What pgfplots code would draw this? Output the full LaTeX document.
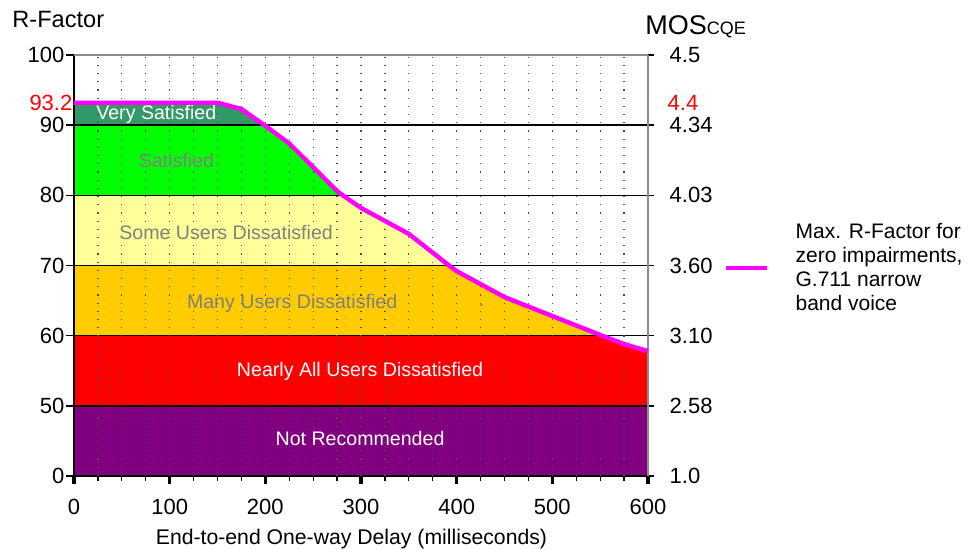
\documentclass[border=0pt]{standalone}
\usepackage{fontspec}
\setmainfont{Liberation Sans}
\usepackage{pgfplots}
\pgfplotsset{compat=1.18}
\usepackage{pgfplotstable}

\definecolor{vsat}{HTML}{339966}
\definecolor{sat}{HTML}{00FF00}
\definecolor{some}{HTML}{FFFF99}
\definecolor{many}{HTML}{FFCC00}
\definecolor{nearly}{HTML}{FF0000}
\definecolor{notrec}{HTML}{800080}
\definecolor{curvecol}{HTML}{FF00FF}
\definecolor{lbl}{HTML}{808080}

% Max R-factor vs one-way delay (R values; plotted on a compressed scale y' = R - 40)
\pgfplotstableread{
x R
0 93.2
150 93.2
175 92.3
199 90.0
200 89.9
225 87.4
250 84.0
275 80.6
281 80.0
300 78.2
350 74.5
392 70.0
400 69.2
450 65.5
500 62.8
550 60.1
552 60.0
575 58.8
600 57.8
}\curvedata

\begin{document}
\begin{tikzpicture}
\begin{axis}[
  at={(0,0)}, anchor=south west,
  scale only axis, width=287pt, height=210.5pt,
  xmin=0, xmax=600, ymin=0, ymax=60,
  axis on top,
  axis x line*=bottom, axis y line*=left,
  axis line style={black, line width=0.8pt, -},
  xtick={0,100,...,600}, minor xtick={25,50,...,575},
  ytick={0,10,...,60}, yticklabels={0,50,60,70,80,90,100},
  extra y ticks={53.2}, extra y tick labels={93.2},
  extra y tick style={grid=none, major tick length=0pt, yticklabel style={red}},
  ymajorgrids, major grid style={black, line width=0.75pt},
  tick align=outside, major tick length=4pt, minor tick length=2.5pt,
  major x tick style={line width=1.6pt, black},
  minor x tick style={line width=0.6pt, black},
  major y tick style={line width=0.75pt, black},
  ticklabel style={font=\fontsize{11}{13}\selectfont},
  /pgf/number format/assume math mode=true,
  xticklabel style={yshift=-4pt},
  yticklabel style={xshift=2.7pt},
  clip=false,
]
\addplot[draw=none, fill=vsat] table[x=x, y expr=\thisrow{R}-40] {\curvedata} \closedcycle;
\addplot[draw=none, fill=sat] table[x=x, y expr={min(\thisrow{R},90)-40}] {\curvedata} \closedcycle;
\addplot[draw=none, fill=some] table[x=x, y expr={min(\thisrow{R},80)-40}] {\curvedata} \closedcycle;
\addplot[draw=none, fill=many] table[x=x, y expr={min(\thisrow{R},70)-40}] {\curvedata} \closedcycle;
\addplot[draw=none, fill=nearly] table[x=x, y expr={min(\thisrow{R},60)-40}] {\curvedata} \closedcycle;
\addplot[draw=none, fill=notrec] table[x=x, y expr={min(\thisrow{R},50)-40}] {\curvedata} \closedcycle;
\end{axis}

\begin{axis}[
  at={(0,0)}, anchor=south west,
  scale only axis, width=287pt, height=210.5pt,
  xmin=0, xmax=600, ymin=0, ymax=60,
  axis x line*=top, axis y line*=right,
  axis line style={black!45, line width=1pt, -},
  xtick={100,200,...,500}, minor xtick={25,50,...,575}, xticklabels={},
  major x tick style={draw=none}, minor x tick style={draw=none},
  xmajorgrids, xminorgrids,
  major grid style={black!70, line width=0.6pt, dash pattern=on 0.6pt off 3.5pt},
  minor grid style={black!70, line width=0.6pt, dash pattern=on 0.6pt off 3.5pt},
  ytick={0,10,...,60}, yticklabels={1.0,2.58,3.10,3.60,4.03,4.34,4.5},
  extra y ticks={53.2}, extra y tick labels={4.4},
  extra y tick style={major tick length=0pt, yticklabel style={red, xshift=2pt}},
  tick align=outside, major tick length=3pt,
  major y tick style={black, line width=0.75pt},
  ticklabel style={font=\fontsize{11}{13}\selectfont},
  yticklabel style={xshift=4.3pt},
  clip=false,
  legend style={at={(axis description cs:1,0.494)}, anchor=west, xshift=38pt,
    draw=none, fill=none, inner sep=0pt, column sep=0pt,
    font=\fontsize{10.5}{12}\selectfont,
    cells={anchor=west, align=left}, nodes={inner sep=0pt}},
  legend image code/.code={\draw[#1, line width=2pt] (0pt,0pt) -- (20.5pt,0pt); \path (33.5pt,0pt);},
]
\begin{scope}[every node/.style={font=\fontsize{9.8}{11}\selectfont, inner sep=0pt, anchor=base}]
\node[white] at (axis cs:86,50.8) {Very Satisfied};
\node[lbl] at (axis cs:107,44.0) {Satisfied};
\node[lbl] at (axis cs:159,33.7) {Some Users Dissatisfied};
\node[lbl] at (axis cs:228,23.9) {Many Users Dissatisfied};
\node[lbl] at (axis cs:426,24.2) {.};
\node[white] at (axis cs:299,14.15) {Nearly All Users Dissatisfied};
\node[white] at (axis cs:299,4.3) {Not Recommended};
\end{scope}
\addplot[curvecol, line width=2.2pt] table[x=x, y expr=\thisrow{R}-40] {\curvedata};
\addlegendentry{Max. R-Factor for\\zero impairments,\\G.711 narrow\\band voice}
\end{axis}

\node[anchor=base west, inner sep=0pt, font=\fontsize{11.8}{13}\selectfont]
  at ([xshift=-31pt, yshift=13.5pt]current axis.north west) {R-Factor};
\node[anchor=base west, inner sep=0pt]
  at ([xshift=-1.5pt, yshift=10pt]current axis.north east)
  {{\fontsize{13.5}{15}\selectfont MOS}{\fontsize{9}{10}\selectfont CQE}};
\node[anchor=base, inner sep=0pt, font=\fontsize{10.6}{12}\selectfont]
  at ([xshift=138.75pt, yshift=-34.5pt]current axis.south west)
  {End-to-end One-way Delay (milliseconds)};

\pgfresetboundingbox
\path (-37pt,-37pt) rectangle (447pt,238pt);
\end{tikzpicture}
\end{document}
